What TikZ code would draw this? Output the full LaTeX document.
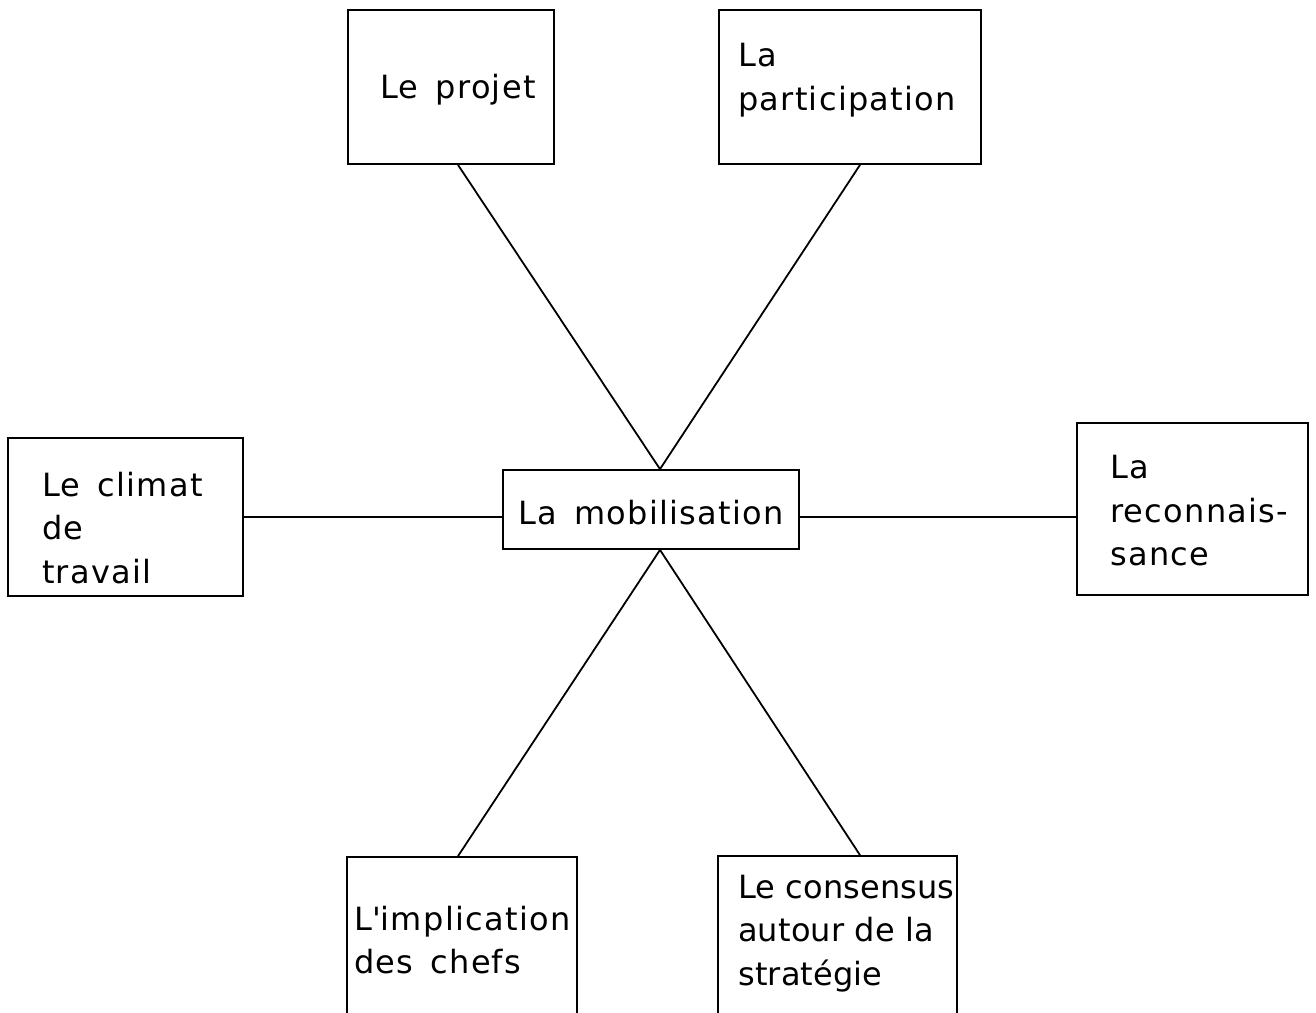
\documentclass[tikz,border=0pt]{standalone}
\usepackage{fontspec}
\setmainfont{DejaVu Sans}[LetterSpace=4,WordSpace=1.5]
\newfontfamily\tightfont{DejaVu Sans}[LetterSpace=0.5]
\begin{document}
\begin{tikzpicture}[x=1pt,y=-1pt,
  box/.style={draw, line width=1.8pt, inner sep=0pt},
  txt/.style={font=\fontsize{32pt}{43.5pt}\selectfont, align=left, inner sep=0pt, anchor=west},
  link/.style={line width=1.8pt}]
\useasboundingbox (0,0) rectangle (1316,1012);
\fill[white] (0,0) rectangle (1316,1012);
% boxes
\node[box, minimum width=206pt, minimum height=154pt] (projet) at (451,87) {};
\node[box, minimum width=262pt, minimum height=154pt] (partic) at (850,87) {};
\node[box, minimum width=235pt, minimum height=158pt] (climat) at (125.5,517) {};
\node[box, minimum width=296pt, minimum height=79pt] (mobil) at (651,509.5) {};
\node[box, minimum width=231pt, minimum height=172pt] (reconn) at (1192.5,509) {};
\node[box, minimum width=230pt, minimum height=157pt] (implic) at (462,935.5) {};
\node[box, minimum width=239pt, minimum height=158pt] (consen) at (837.5,935) {};
% texts
\node[txt, anchor=center] (projet-t) at (458,90) {Le projet};
\node[txt, anchor=center] (mobil-t) at (651,513) {La mobilisation};
\node[txt] (partic-t) at (738,80) {La\\participation};
\node[txt] (climat-t) at (42,528) {Le climat\\de\\travail};
\node[txt] (reconn-t) at (1110,511) {La\\reconnais-\\sance};
\node[txt] (implic-t) at (354,940) {L\textquotesingle implication\\des chefs};
\node[txt, font=\tightfont\fontsize{32pt}{43.5pt}\selectfont] (consen-t) at (738,933.5) {Le consensus\\autour de la\\stratégie};
% connectors
\draw[link] ([xshift=7pt]projet.south) -- ([xshift=9pt]mobil.north);
\draw[link] ([xshift=10pt]partic.south) -- ([xshift=9pt]mobil.north);
\draw[link] ([xshift=9pt]mobil.south) -- ([xshift=-4pt]implic.north);
\draw[link] ([xshift=9pt]mobil.south) -- ([xshift=22.5pt]consen.north);
\draw[link] (climat.east) -- (climat.east -| mobil.west);
\draw[link] ([yshift=-7.5pt]mobil.east) -- ([yshift=-7.5pt]mobil.east -| reconn.west);
\end{tikzpicture}
\end{document}
